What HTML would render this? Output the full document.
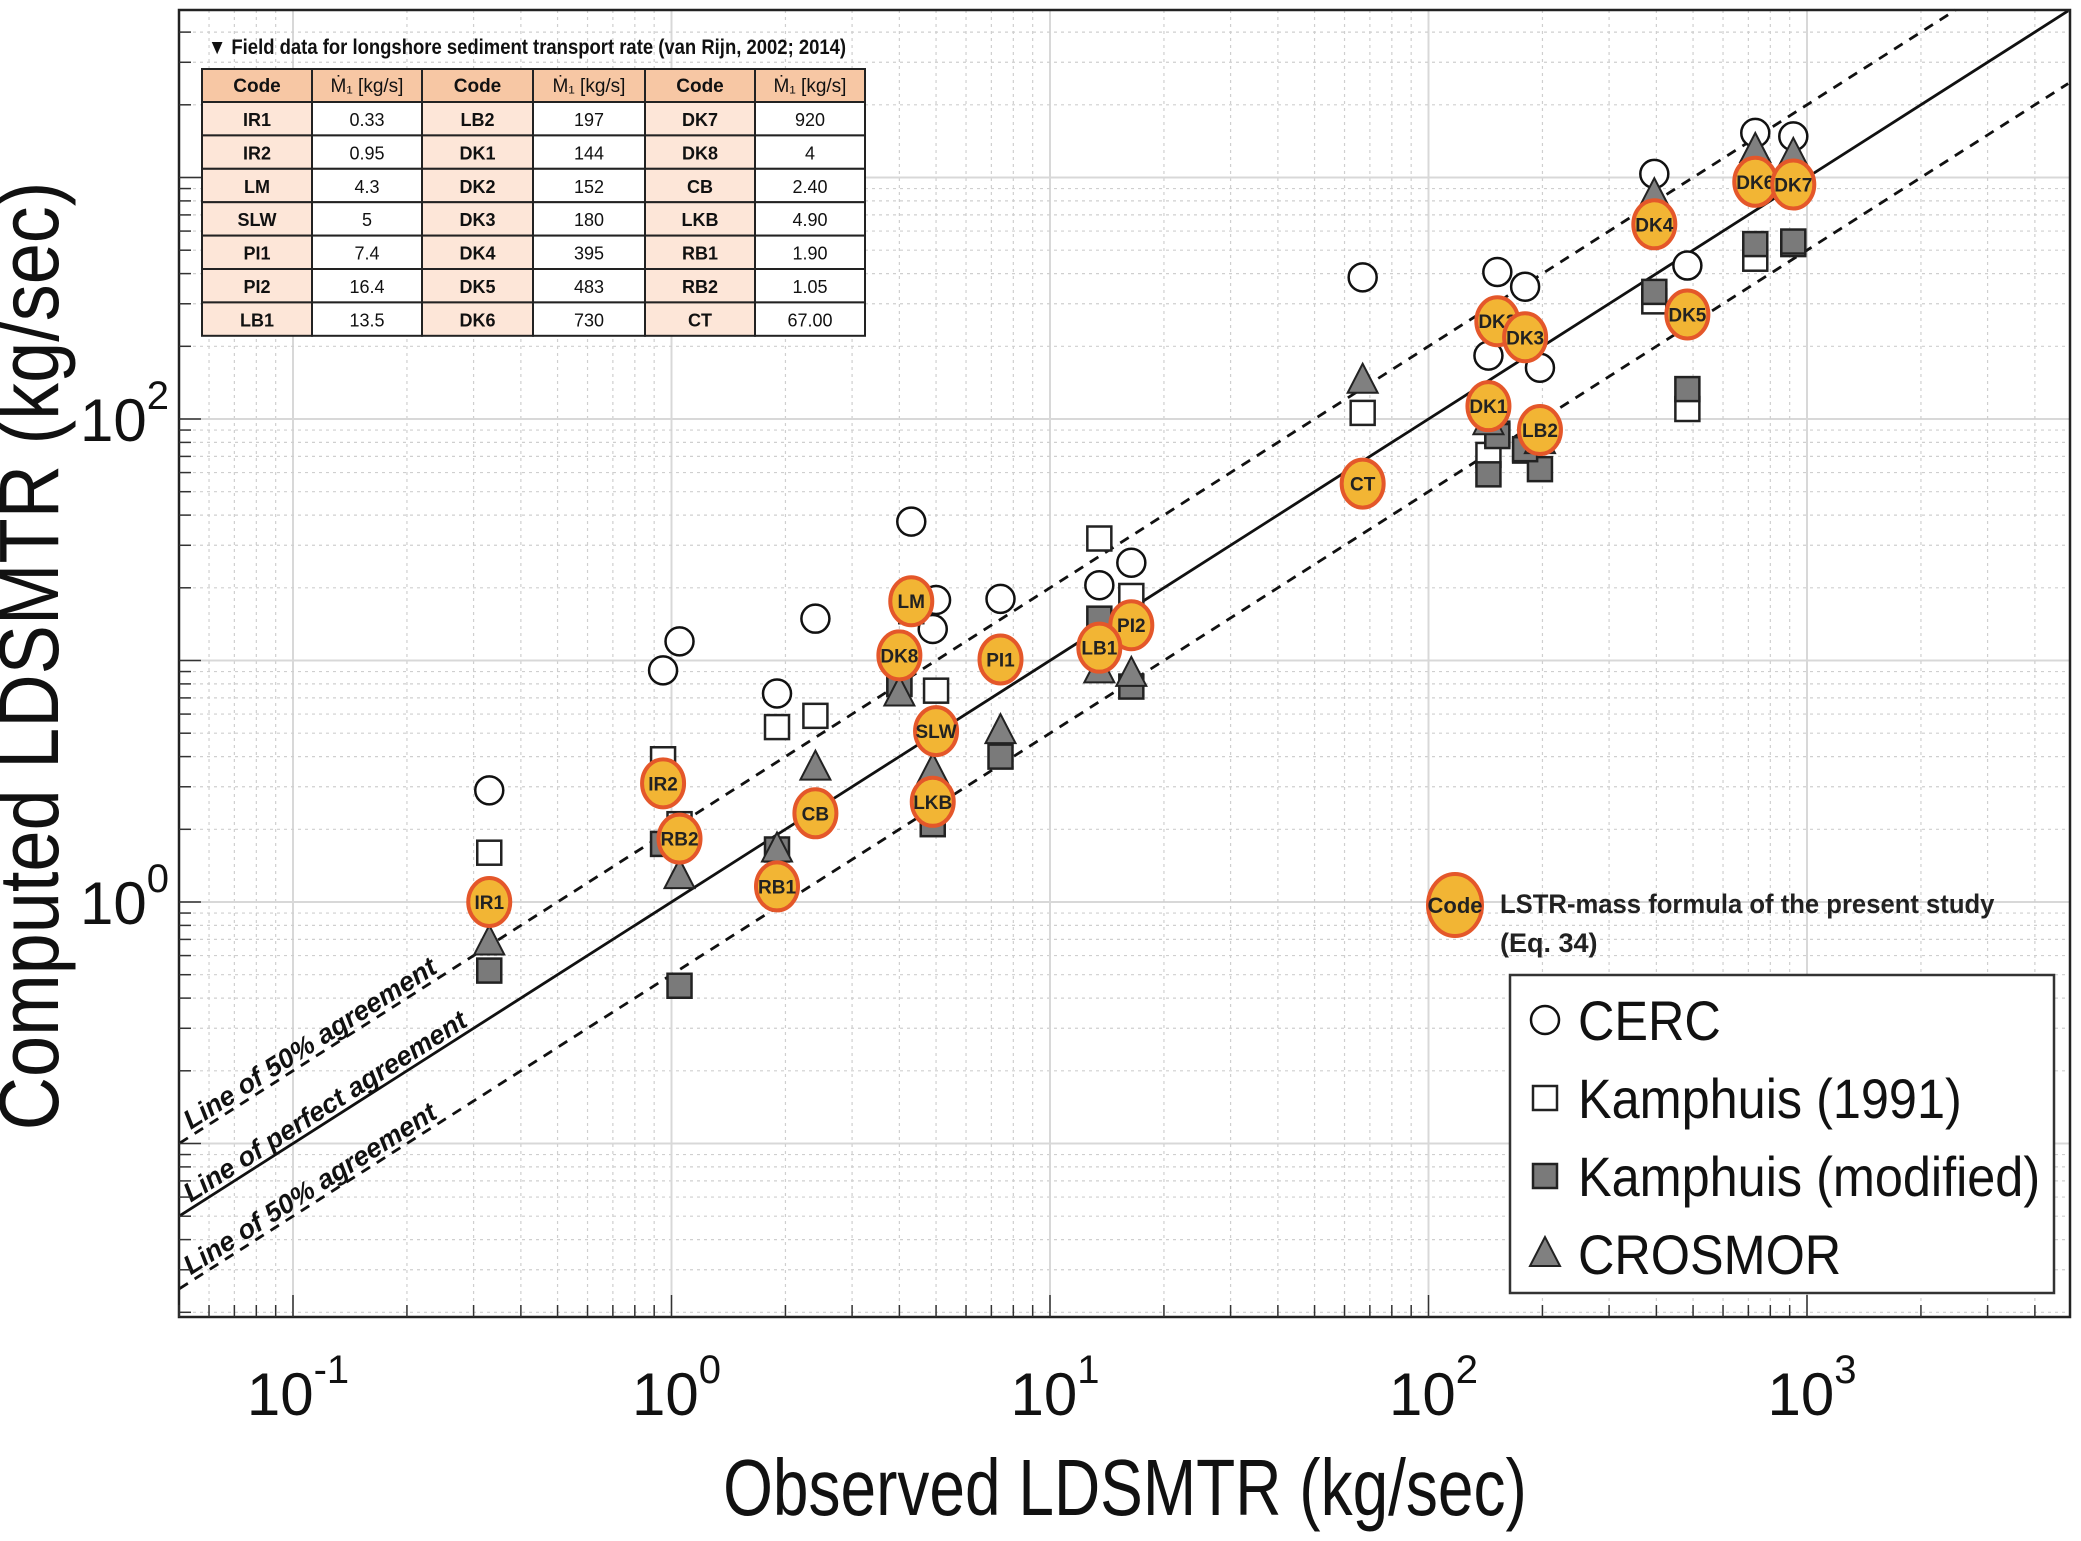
<!DOCTYPE html>
<html><head><meta charset="utf-8"><style>
html,body{margin:0;padding:0;background:#fff;}
svg{display:block;font-family:"Liberation Sans",sans-serif;}
</style></head><body>
<svg id="chart" width="2081" height="1541" viewBox="0 0 2081 1541" xmlns="http://www.w3.org/2000/svg">
<rect width="2081" height="1541" fill="#fff"/>
<g id="grid"></g>
<g id="lines"></g>
<g id="marks"></g>
<rect x="179" y="10" width="1891" height="1307" fill="none" stroke="#222" stroke-width="2.5"/>
<g id="ticks"></g>
<g id="table"></g>
<g id="legend"></g>
<text x="1125" y="1515" text-anchor="middle" font-size="80" fill="#111" transform="translate(1125,0) scale(0.8,1) translate(-1125,0)">Observed LDSMTR (kg/sec)</text>
<text x="0" y="0" text-anchor="middle" font-size="84" fill="#111" transform="translate(58,656) rotate(-90) scale(0.88,1)">Computed LDSMTR (kg/sec)</text>
</svg>
<script>
const codes=["IR1","IR2","LM","SLW","PI1","PI2","LB1","LB2","DK1","DK2","DK3","DK4","DK5","DK6","DK7","DK8","CB","LKB","RB1","RB2","CT"];
const observed=[0.33,0.95,4.3,5,7.4,16.4,13.5,197,144,152,180,395,483,730,920,4,2.40,4.90,1.90,1.05,67.00];
const cercVals=[2.9,9.1,37.6,17.8,18,25.4,20.5,163,183,406,353,1035,432,1530,1480,null,14.9,13.5,7.3,12.0,386];
const kampVals=[1.6,3.9,16.9,7.5,null,18.5,32,null,71,87,74,307,110,461,530,8.0,5.9,null,5.3,2.1,106];
const kampModVals=[0.52,1.74,16,null,4.0,7.8,14.9,62,59,85,75,336,133,530,543,8.0,null,2.1,1.65,0.45,null];
const crosVals=[0.68,null,null,null,5.1,8.8,9.1,81,97,null,null,845,null,1300,1240,7.3,3.6,3.5,1.65,1.28,144];
const presentVals=[1.0,3.1,17.6,5.1,10.1,14.0,11.3,90,113,254,218,640,271,960,935,10.5,2.33,2.6,1.16,1.83,54];
const xTickLabels=["-1","0","1","2","3"];
const yTickLabels=["0","2"];

const NS="http://www.w3.org/2000/svg";
const L=179,R=2070,T=10,B=1317;
function X(v){return 293+378.5*(Math.log10(v)+1);}
function Y(v){return 902-241.5*Math.log10(v);}
function mk(tag,attrs,parent){const e=document.createElementNS(NS,tag);for(const k in attrs)e.setAttribute(k,attrs[k]);parent.appendChild(e);return e;}
const grid=document.getElementById('grid'),lines=document.getElementById('lines'),marks=document.getElementById('marks'),ticks=document.getElementById('ticks'),tbl=document.getElementById('table'),leg=document.getElementById('legend');

for(let d=-2;d<=4;d++){for(let m=1;m<10;m++){const v=m*Math.pow(10,d);const x=X(v);
  if(x>L&&x<R){const gl=mk('line',{x1:x,x2:x,y1:T,y2:B,stroke:m==1?'#d8d8d8':'#cfcfcf','stroke-width':m==1?2:1.2,'stroke-dasharray':m==1?'':'3,4'},grid);
    
    const tl=mk('line',{x1:x,x2:x,y1:B,y2:B-(m==1?22:12),stroke:'#333','stroke-width':1.5},ticks);
    }
  const y=Y(v);
  if(y>T&&y<B){const gl=mk('line',{x1:L,x2:R,y1:y,y2:y,stroke:m==1?'#d8d8d8':'#cfcfcf','stroke-width':m==1?2:1.2,'stroke-dasharray':m==1?'':'3,4'},grid);
    
    const tl=mk('line',{x1:L,x2:L+(m==1?22:12),y1:y,y2:y,stroke:'#333','stroke-width':1.5},ticks);
    }
}}
xTickLabels.forEach(p=>{const x=X(Math.pow(10,+p));
  const t=mk('text',{x:x+5,y:1415,'text-anchor':'middle','font-size':60,fill:'#111'},ticks);
  
  t.textContent='10';const s=mk('tspan',{dy:-32,'font-size':40},t);s.textContent=p;});
yTickLabels.forEach(p=>{const y=Y(Math.pow(10,+p));
  const t=mk('text',{x:80,y:y+22,'font-size':60,fill:'#111'},ticks);
  
  t.textContent='10';const s=mk('tspan',{dy:-32,'font-size':40},t);s.textContent=p;});

const x0=Math.pow(10,-1.3),x1=Math.pow(10,3.69);
[[1,'perfect-agreement-line',''],[2,'upper-50-line','10,8'],[0.5,'lower-50-line','10,8']].forEach(([f,n,da])=>{
  let xa=x0,xb=x1; if(Y(f*xb)<T) xb=Math.pow(10,(902-T)/241.5)/f;
  const l=mk('line',{x1:X(xa),y1:Y(f*xa),x2:X(xb),y2:Y(f*xb),stroke:'#111','stroke-width':2.8,'stroke-dasharray':da},lines);
  });
const ang=-Math.atan(241.5/378.5)*180/Math.PI;
[[2,'Line of 50% agreement','upper-50-label'],[1,'Line of perfect agreement','perfect-label'],[0.5,'Line of 50% agreement','lower-50-label']].forEach(([f,s,n])=>{
  const v=Math.pow(10,-1.27);const x=X(v),y=Y(f*v)-6;
  const t=mk('text',{x:x,y:y,'font-size':27,'font-weight':'bold','font-style':'italic',fill:'#111',transform:`rotate(${ang} ${x} ${y})`},lines);
  t.textContent=s;});

function circ(x,y,g){return mk('circle',{cx:x,cy:y,r:14,fill:'#fff',stroke:'#111','stroke-width':2.5},g);}
function sq(x,y,g,fill){return mk('rect',{x:x-12,y:y-12,width:24,height:24,fill:fill,stroke:'#222','stroke-width':2.5},g);}
function tri(x,y,g){return mk('polygon',{points:`${x},${y-17} ${x-15},${y+12} ${x+15},${y+12}`,fill:'#808080',stroke:'#222','stroke-width':2},g);}
observed.forEach((o,i)=>{const x=X(o);
  if(cercVals[i]!=null){const e=circ(x,Y(cercVals[i]),marks);}});
observed.forEach((o,i)=>{const x=X(o);
  if(kampVals[i]!=null){const e=sq(x,Y(kampVals[i]),marks,'#fff');}});
observed.forEach((o,i)=>{const x=X(o);
  if(kampModVals[i]!=null){const e=sq(x,Y(kampModVals[i]),marks,'#7a7a7a');}});
observed.forEach((o,i)=>{const x=X(o);
  if(crosVals[i]!=null){const e=tri(x,Y(crosVals[i]),marks);}});
observed.forEach((o,i)=>{const x=X(o),y=Y(presentVals[i]);
  const e=mk('ellipse',{cx:x,cy:y,rx:21,ry:24,fill:'#f2b534',stroke:'#e4572a','stroke-width':4},marks);
  
  const t=mk('text',{x:x,y:y+7,'text-anchor':'middle','font-size':19,'font-weight':'bold',fill:'#222'},marks);
  t.textContent=codes[i];});

const tt=mk('text',{x:208,y:54,'font-size':21,'font-weight':'bold',fill:'#111',transform:'translate(208,0) scale(0.88,1) translate(-208,0)'},tbl);

tt.textContent='▼ Field data for longshore sediment transport rate (van Rijn, 2002; 2014)';
const colX=[202,312,422,533,645,755,865];
const rowY0=69,hH=33,rH=33.4;
const tCodes=[["IR1","IR2","LM","SLW","PI1","PI2","LB1"],["LB2","DK1","DK2","DK3","DK4","DK5","DK6"],["DK7","DK8","CB","LKB","RB1","RB2","CT"]];
const tVals=[["0.33","0.95","4.3","5","7.4","16.4","13.5"],["197","144","152","180","395","483","730"],["920","4","2.40","4.90","1.90","1.05","67.00"]];
for(let c=0;c<6;c++){
  const hr=mk('rect',{x:colX[c],y:rowY0,width:colX[c+1]-colX[c],height:hH,fill:'#f7c7a4',stroke:'#222','stroke-width':2},tbl);
  
  const ht=mk('text',{x:(colX[c]+colX[c+1])/2,y:rowY0+23,'text-anchor':'middle','font-size':19,'font-weight':c%2?'normal':'bold',fill:'#111'},tbl);
  
  ht.textContent=c%2?'Ṁ₁ [kg/s]':'Code';
  for(let r=0;r<7;r++){const y=rowY0+hH+r*rH;
    const cr=mk('rect',{x:colX[c],y:y,width:colX[c+1]-colX[c],height:rH,fill:c%2?'#fff':'#fde6d8',stroke:'#222','stroke-width':2},tbl);
    
    const ct=mk('text',{x:(colX[c]+colX[c+1])/2,y:y+24,'text-anchor':'middle','font-size':18,'font-weight':c%2?'normal':'bold',fill:'#111'},tbl);
    
    ct.textContent=c%2?tVals[(c-1)/2][r]:tCodes[c/2][r];}
}

const pe=mk('ellipse',{cx:1455,cy:905,rx:27,ry:31,fill:'#f2b534',stroke:'#e4572a','stroke-width':4},leg);

const pt=mk('text',{x:1455,y:913,'text-anchor':'middle','font-size':22,'font-weight':'bold',fill:'#222'},leg);
pt.textContent='Code';
const p1=mk('text',{x:1500,y:913,'font-size':27,'font-weight':'bold',fill:'#222',transform:'translate(1500,0) scale(0.95,1) translate(-1500,0)'},leg);
p1.textContent='LSTR-mass formula of the present study';
const p2=mk('text',{x:1500,y:952,'font-size':27,'font-weight':'bold',fill:'#222'},leg);
p2.textContent='(Eq. 34)';

const lb=mk('rect',{x:1510,y:975,width:544,height:318,fill:'#fff',stroke:'#333','stroke-width':2.5},leg);

const ly=[1020,1098,1176,1254];
const lnames=['CERC','Kamphuis (1991)','Kamphuis (modified)','CROSMOR'];
const lm=[circ(1545,ly[0],leg),sq(1545,ly[1],leg,'#fff'),sq(1545,ly[2],leg,'#7a7a7a'),tri(1545,ly[3],leg)];
lm.forEach(e=>{});
lnames.forEach((n,i)=>{const t=mk('text',{x:1578,y:ly[i]+20,'font-size':56,fill:'#111',transform:`translate(1578,0) scale(0.9,1) translate(-1578,0)`},leg);
  t.textContent=n;});
</script>
</body></html>
